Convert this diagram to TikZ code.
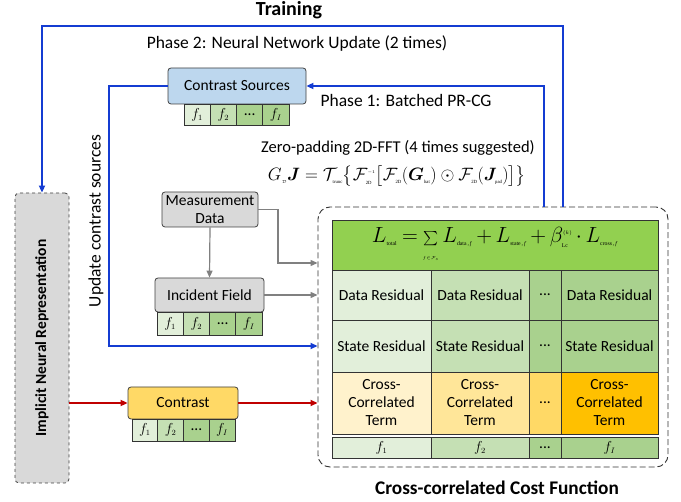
\documentclass[tikz,border=0pt]{standalone}
\usepackage{amsmath,amssymb,bm,graphicx}
\usepackage{fontspec}
\setmainfont{Carlito}
\newfontfamily\tnr{Liberation Serif}
\usetikzlibrary{arrows.meta}
\definecolor{csblue}{HTML}{BDD7EE}
\definecolor{grayF}{HTML}{D9D9D9}
\definecolor{yellowC}{HTML}{FFD966}
\definecolor{hdrG}{HTML}{92D050}
\definecolor{gA}{HTML}{E2EFDA}
\definecolor{gB}{HTML}{C5E0B4}
\definecolor{gC}{HTML}{A9D18E}
\definecolor{gD}{HTML}{A9D18E}
\definecolor{yA}{HTML}{FFF2CC}
\definecolor{yB}{HTML}{FFE699}
\definecolor{yC}{HTML}{FFD966}
\definecolor{yD}{HTML}{FFC000}
\definecolor{blueL}{RGB}{20,60,210}
\definecolor{redL}{HTML}{C00000}
\definecolor{grayL}{HTML}{808080}
\newcommand{\fs}{\fontsize{15.5}{18}\selectfont}
\newcommand{\fl}{\fontsize{17.5}{20}\selectfont}
\newcommand{\ts}[1]{\hbox{\fontsize{5.5}{6}\selectfont\tnr #1}}
\newcommand{\tsb}[1]{\hbox{\fontsize{6.5}{7}\selectfont\tnr #1}}
\newcommand{\ff}[1]{$f_{\scriptscriptstyle #1}$}
\newcommand{\smallsum}{\mathop{\hbox{\scalebox{0.62}{$\sum$}}}}
\tikzset{
  every node/.style={font=\fs},
  bx/.style={draw=black!75, line width=0.8pt, rounded corners=3pt, inner sep=0pt, align=center},
  cell/.style={draw=black!80, line width=0.8pt, inner sep=0pt, align=center},
  tip/.style={-{Triangle[length=7pt,width=6pt]}},
  bl/.style={draw=blueL, line width=1.8pt, tip},
  rd/.style={draw=redL, line width=1.8pt, tip},
  gy/.style={draw=grayL, line width=1.2pt, tip},
}
\begin{document}
\begin{tikzpicture}[x=1pt,y=-1pt]
\useasboundingbox (0,0) rectangle (681,502);

% titles
\node[font=\fontsize{20}{22}\selectfont\bfseries] (train) at (289,10) {Training};
\node[font=\fl] (ph2) at (297,44) {Phase 2: Neural Network Update (2 times)};
\node[font=\fl] (ph1) at (406,100) {Phase 1: Batched PR-CG};
\node[rotate=90, font=\fl] (ucs) at (96,221) {Update contrast sources};
\node[font=\fontsize{16.5}{18}\selectfont, inner sep=0pt] (zp) at (398,148) {Zero-padding 2D-FFT (4 times suggested)};
\node[inner sep=0pt] (gf) at (397,176) {\resizebox{258pt}{!}{\fontsize{20}{22}\selectfont$G_{\ts{$\mathcal{D}$}}\bm{J}=\mathcal{T}_{\ts{trunc}}\bigl\{\mathcal{F}^{\ts{$-1$}}_{\ts{2D}}\big[\mathcal{F}_{\ts{2D}}(\bm{G}_{\ts{hat}})\odot\mathcal{F}_{\ts{2D}}(\bm{J}_{\ts{pad}})\big]\bigr\}$}};

% contrast sources
\node[bx, fill=csblue, minimum width=138pt, minimum height=36pt] (cs) at (237,86) {Contrast Sources};
\foreach \i/\c/\lab in {1/gA/1, 2/gB/2, 4/gD/I}
  \node[cell, fill=\c, minimum width=26.25pt, minimum height=21pt] (csf\i) at ({184+26.25*(\i-0.5)},114.5) {\ff{\lab}};
\node[cell, fill=gC, minimum width=26.25pt, minimum height=21pt] (csf3) at ({184+26.25*2.5},114.5) {...};

% measurement / incident
\node[bx, fill=grayF, minimum width=96pt, minimum height=35pt] (md) at (210,209.5) {Measurement\\Data};
\node[bx, fill=grayF, minimum width=109pt, minimum height=34pt] (inc) at (209.5,295) {Incident Field};
\foreach \i/\c/\lab in {1/gA/1, 2/gB/2, 4/gD/I}
  \node[cell, fill=\c, minimum width=26.25pt, minimum height=23pt] (incf\i) at ({157+26.25*(\i-0.5)},323.5) {\ff{\lab}};
\node[cell, fill=gC, minimum width=26.25pt, minimum height=23pt] (incf3) at ({157+26.25*2.5},323.5) {...};

% contrast
\node[bx, fill=yellowC, minimum width=110pt, minimum height=32pt] (con) at (183,403) {Contrast};
\foreach \i/\c/\lab in {1/gA/1, 2/gB/2, 4/gD/I}
  \node[cell, fill=\c, minimum width=25.75pt, minimum height=22pt] (conf\i) at ({132+25.75*(\i-0.5)},430) {\ff{\lab}};
\node[cell, fill=gC, minimum width=25.75pt, minimum height=22pt] (conf3) at ({132+25.75*2.5},430) {...};

% INR
\node[bx, dashed, fill=grayF, minimum width=54pt, minimum height=290pt, rounded corners=4pt] (inr) at (42,338) {};
\node[rotate=90, font=\fs\bfseries] (inrlab) at (inr) {Implicit Neural Representation};

% cost function box
\node[draw=black!80, dashed, dash pattern=on 6pt off 3pt, line width=0.9pt, rounded corners=12pt, minimum width=350pt, minimum height=260pt] (costbox) at (493,337) {};
\node[cell, fill=hdrG, minimum width=326pt, minimum height=50pt] (hdr) at (495,245)
  {\resizebox{246pt}{!}{\fontsize{26}{28}\selectfont\thickmuskip=4mu\medmuskip=3mu$L_{\tsb{total}}=\smallsum\limits_{\ts{$f\!\in\!\mathcal{F}_s$}}L_{\tsb{data\,,\,\textit{f}}}+L_{\tsb{state\,,\,\textit{f}}}+\beta^{\tsb{$(k)$}}_{\tsb{Lc}}\cdot L_{\tsb{cross\,,\,\textit{f}}}$}};
\foreach \i/\x/\w/\c/\cy in {1/381.5/99/gA/yA, 2/480/98/gB/yB, 4/609.5/97/gD/yD}{
  \node[cell, fill=\c, minimum width=\w pt, minimum height=50pt] (dr\i) at (\x,295) {Data Residual};
  \node[cell, fill=\c, minimum width=\w pt, minimum height=52pt] (st\i) at (\x,346) {State Residual};
  \node[cell, fill=\cy, minimum width=\w pt, minimum height=62pt] (cr\i) at (\x,403) {Cross-\\Correlated\\Term};
}
\node[cell, fill=gC, minimum width=32pt, minimum height=50pt] (dr3) at (545,295) {...};
\node[cell, fill=gC, minimum width=32pt, minimum height=52pt] (st3) at (545,346) {...};
\node[cell, fill=yC, minimum width=32pt, minimum height=62pt] (cr3) at (545,403) {...};
\node[cell, fill=gA, minimum width=99pt, minimum height=21pt] (fr1) at (381.5,447.5) {\ff{1}};
\node[cell, fill=gB, minimum width=98pt, minimum height=21pt] (fr2) at (480,447.5) {\ff{2}};
\node[cell, fill=gC, minimum width=32pt, minimum height=21pt] (fr3) at (545,447.5) {...};
\node[cell, fill=gD, minimum width=97pt, minimum height=21pt] (fr4) at (609.5,447.5) {\ff{I}};
\node[font=\fontsize{19.3}{22}\selectfont\bfseries] (cclab) at (497,488) {Cross-correlated Cost Function};

% connectors
\coordinate (tr) at (563,26);
\coordinate (p1) at (544,86);
\coordinate (uc) at (109,86);
\coordinate (gm) at (278,263);
\draw[bl] (costbox.north -| tr) -- (tr) -| (inr.north);
\draw[bl] (costbox.north -| p1) |- (cs.east);
\draw[bl] (cs.west) -| (uc |- st1) -- (costbox.west |- st1);
\draw[rd] (inr.east |- con.west) -- (con.west);
\draw[rd] (con.east) -- (costbox.west |- con.east);
\draw[gy] (md.south) -- (inc.north);
\draw[gy] (md.east) -| (gm) -- (costbox.west |- gm);
\draw[gy] (inc.east) -- (costbox.west |- inc.east);
\end{tikzpicture}
\end{document}
